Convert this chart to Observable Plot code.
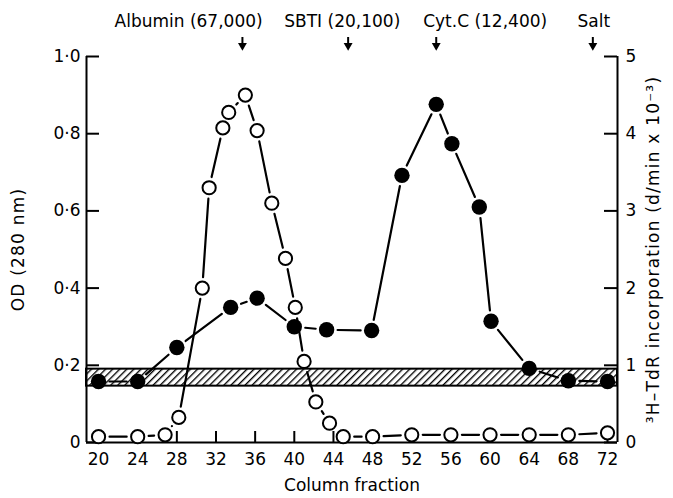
<!DOCTYPE html>
<html><head><meta charset="utf-8">
<script src="https://cdn.jsdelivr.net/npm/d3@7"></script>
<script src="https://cdn.jsdelivr.net/npm/@observablehq/plot@0.6"></script>
<style>body{margin:0;background:#fff} svg{display:block} .ttl text{letter-spacing:1.2px}</style>
</head><body><div id="chart"></div>
<script>
// Open circles: OD (280 nm)
const odFraction = [20, 24, 26.8, 28.2, 30.6, 31.3, 32.7, 33.3, 35.0, 36.2, 37.7, 39.1, 40.1, 41.0, 42.2, 43.6, 45.0, 48, 52, 56, 60, 64, 68, 72];
const odValue    = [0.015, 0.015, 0.02, 0.065, 0.40, 0.66, 0.815, 0.855, 0.90, 0.808, 0.62, 0.477, 0.35, 0.21, 0.105, 0.05, 0.015, 0.015, 0.02, 0.02, 0.02, 0.02, 0.02, 0.025];
// Filled circles: 3H-TdR incorporation (d/min x 10^-3)
const tdrFraction = [20, 24, 28, 33.5, 36.2, 40.0, 43.3, 47.9, 51.0, 54.5, 56.1, 58.9, 60.1, 64, 68, 72];
const tdrValue    = [0.79, 0.79, 1.23, 1.75, 1.87, 1.50, 1.46, 1.45, 3.46, 4.38, 3.87, 3.05, 1.57, 0.96, 0.80, 0.79];
// Hatched background band (right-axis units)
const bandTdR = [0.73, 0.95];
// Axes
const xTicks = [20, 24, 28, 32, 36, 40, 44, 48, 52, 56, 60, 64, 68, 72];
const xDomain = [18.77, 73.02];
const yTicksOD = [0, 0.2, 0.4, 0.6, 0.8, 1.0];
const yTickLabelsOD = ["0", "0·2", "0·4", "0·6", "0·8", "1·0"];
const yTickLabelsTdR = ["0", "1", "2", "3", "4", "5"];
const tdrPerOD = 5;
// Molecular-weight markers
const markerNames = ["Albumin (67,000)", "SBTI (20,100)", "Cyt.C (12,400)", "Salt"];
const markerFractions = [34.7, 45.5, 54.5, 70.5];
const markerLabelFractions = [29.2, 44.9, 59.5, 70.6];
const xLabel = "Column fraction";
const yLabelLeft = "OD (280 nm)";
const yLabelRight = "³H–TdR incorporation (d/min x 10⁻³)";

const od = odFraction.map((x, i) => ({x, y: odValue[i]}));
const tdr = tdrFraction.map((x, i) => ({x, y: tdrValue[i] / tdrPerOD}));
const markers = markerNames.map((name, i) => ({name, x: markerFractions[i], lx: markerLabelFractions[i]}));
const odSeg = d3.pairs(od);
const tdrSeg = d3.pairs(tdr);
const band = [{x1: xDomain[0], x2: xDomain[1], y1: bandTdR[0] / tdrPerOD, y2: bandTdR[1] / tdrPerOD}];

const font = "DejaVu Sans";
const fs = 17;
const chart = Plot.plot({
  width: 673, height: 498,
  marginLeft: 86, marginRight: 56, marginTop: 56, marginBottom: 56,
  style: {fontFamily: font, fontSize: fs + "px", color: "black", background: "white"},
  x: {domain: xDomain},
  y: {domain: [0, 1]},
  marks: [
    Plot.rect(band, {x1: "x1", x2: "x2", y1: "y1", y2: "y2", fill: "url(#hatch)", stroke: "black", strokeWidth: 2}),
    Plot.ruleX([xDomain[0], xDomain[1]], {y1: 0, y2: 1, stroke: "black", strokeWidth: 2}),
    Plot.ruleY([0], {x1: xDomain[0], x2: xDomain[1], stroke: "black", strokeWidth: 2}),
    Plot.ruleX(xTicks, {y1: 0, y2: 0, insetTop: -11, stroke: "black", strokeWidth: 2}),
    Plot.ruleY(yTicksOD, {x1: xDomain[0], x2: xDomain[0], insetRight: -13, stroke: "black", strokeWidth: 2}),
    Plot.ruleY(yTicksOD, {x1: xDomain[1], x2: xDomain[1], insetLeft: -13, stroke: "black", strokeWidth: 2}),
    Plot.axisX({ticks: xTicks, tickSize: 0, tickPadding: 10, tickFormat: d => String(d), label: null, fontSize: fs}),
    Plot.axisY({anchor: "left", ticks: yTicksOD, tickSize: 0, tickPadding: 6, tickFormat: (d, i) => yTickLabelsOD[i], label: null, fontSize: fs}),
    Plot.axisY({anchor: "right", ticks: yTicksOD, tickSize: 0, tickPadding: 8, tickFormat: (d, i) => yTickLabelsTdR[i], label: null, fontSize: fs}),
    Plot.arrow(tdrSeg, {x1: d => d[0].x, y1: d => d[0].y, x2: d => d[1].x, y2: d => d[1].y, headLength: 0, insetStart: 11, insetEnd: 11, stroke: "black", strokeWidth: 2.2}),
    Plot.arrow(odSeg, {x1: d => d[0].x, y1: d => d[0].y, x2: d => d[1].x, y2: d => d[1].y, headLength: 0, insetStart: 11, insetEnd: 11, stroke: "black", strokeWidth: 2.2}),
    Plot.dot(tdr, {x: "x", y: "y", r: 7.7, fill: "black", stroke: "none"}),
    Plot.dot(od, {x: "x", y: "y", r: 6.6, fill: "white", stroke: "black", strokeWidth: 2}),
    Plot.ruleX(markers, {x: "x", y1: 1, y2: 1, insetTop: -19, insetBottom: 9, stroke: "black", strokeWidth: 2}),
    Plot.dot(markers, {x: "x", y: 1, dy: -11, symbol: "triangle", rotate: 180, r: 3.3, fill: "black", stroke: "none"}),
    Plot.text(markers, {x: "lx", text: "name", frameAnchor: "top", dy: -35, lineAnchor: "middle", fontSize: fs}),
    Plot.text([xLabel], {text: d => d, frameAnchor: "bottom", textAnchor: "middle", dy: 43, lineAnchor: "middle", fontSize: fs}),
    Plot.text([yLabelLeft], {text: d => d, frameAnchor: "left", textAnchor: "middle", dx: -68, rotate: -90, lineAnchor: "middle", fontSize: fs, className: "ttl"}),
    Plot.text([yLabelRight], {text: d => d, frameAnchor: "right", textAnchor: "middle", dx: 36, rotate: -90, lineAnchor: "middle", fontSize: fs, className: "ttl"})
  ]
});
d3.select(chart).insert("defs", ":first-child").html(
  '<pattern id="hatch" patternUnits="userSpaceOnUse" width="5" height="5" patternTransform="rotate(45)">' +
  '<rect width="5" height="5" fill="white"/><line x1="0" y1="0" x2="0" y2="5" stroke="black" stroke-width="2.7"/></pattern>'
);
document.getElementById("chart").appendChild(chart);
</script>
</body></html>
